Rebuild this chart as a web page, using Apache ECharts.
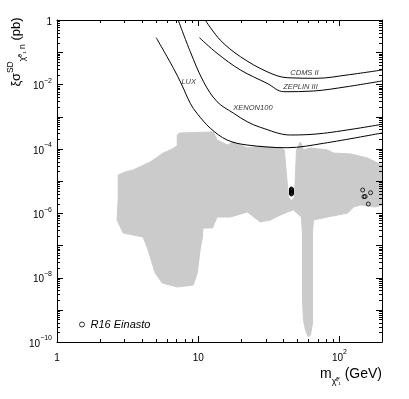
<!DOCTYPE html>
<html><head><meta charset="utf-8">
<script src="https://cdn.jsdelivr.net/npm/echarts@6/dist/echarts.min.js"></script>
<style>html,body{margin:0;padding:0;background:#fff}#c{width:409px;height:399px}</style>
</head><body><div id="c"></div>
<script>
// ---- tick labels ----
const xTickLabels = [1, 10, 100];
const yTickLabels = [1, 1e-2, 1e-4, 1e-6, 1e-8, 1e-10];
const yDecades = [1, 1e-1, 1e-2, 1e-3, 1e-4, 1e-5, 1e-6, 1e-7, 1e-8, 1e-9, 1e-10];

// ---- exclusion curves (mass GeV, sigma pb) ----
const cdmsX = [11.2, 14.3, 19.9, 30.7, 42.6, 69.5, 113, 200];
const cdmsY = [1.0, 0.239, 0.0725, 0.0248, 0.0161, 0.0155, 0.0196, 0.028];
const zeplinX = [10.2, 13.6, 19.9, 30.7, 40.3, 65.7, 113, 200];
const zeplinY = [0.282, 0.0925, 0.028, 0.0108, 0.00593, 0.00624, 0.00849, 0.0128];
const xenonX = [7.21, 8.78, 10.9, 13.6, 17.8, 22.2, 27.5, 44.9, 77.0, 200];
const xenonY = [1.0, 0.104, 0.0121, 0.0029, 0.00127, 6.95e-4, 4.65e-4, 2.68e-4, 3.03e-4, 5.77e-4];
const luxX = [5.04, 6.68, 7.66, 8.78, 9.79, 12.2, 16.0, 22.2, 42.6, 77.0, 200];
const luxY = [0.282, 0.0316, 0.00958, 0.00259, 0.00127, 4.33e-4, 1.88e-4, 1.31e-4, 1.08e-4, 1.48e-4, 3.1e-4];

// ---- curve label positions (mass, sigma, text) ----
const curveLabels = [
  [56.5, 0.0226, 'CDMS II'],
  [52.9, 0.0083, 'ZEPLIN III'],
  [24.4, 0.00185, 'XENON100'],
  [8.56, 0.0119, 'LUX']
];

// ---- scan region outline (mass, sigma) ----
const cloudX = [2.66, 2.71, 2.71, 3.04, 3.46, 4.57, 5.65, 6.33, 7.10, 7.10, 7.45, 12.8, 13.6, 16.1, 17.7, 22.3, 27.5, 38.2, 40.7, 43.5, 45.7, 48.0, 49.6, 52.9, 55.6, 62.3, 82.2, 90.6, 120, 158, 180, 200,
  200, 180, 141, 126, 114, 82.2, 65.4, 64.4, 64.4, 64.4, 62.3, 60.3, 57.4, 55.6, 54.7, 54.7, 53.7, 47.2, 42.8, 38.2, 32.4, 27.5, 22.3, 16.9, 13.6, 12.6, 10.8, 10.7, 10.3, 9.84, 9.22, 7.10, 5.56, 4.95, 4.42, 4.07, 2.94];
const cloudY = [6.15e-7, 2.57e-6, 1.53e-5, 1.91e-5, 2.20e-5, 3.89e-5, 7.41e-5, 9.18e-5, 1.22e-4, 2.69e-4, 3.10e-4, 3.33e-4, 1.88e-4, 1.31e-4, 1.63e-4, 1.06e-4, 1.22e-4, 1.06e-4, 9.18e-5, 3.18e-6, 2.39e-6, 3.18e-6, 9.18e-5, 1.63e-4, 9.18e-5, 1.06e-4, 9.18e-5, 7.41e-5, 6.90e-5, 5.18e-5, 3.89e-5, 3.14e-5,
  1.80e-6, 1.56e-6, 1.80e-6, 1.56e-6, 1.01e-6, 7.62e-7, 6.15e-7, 2.43e-7, 2.01e-9, 3.89e-10, 1.65e-10, 1.43e-10, 2.36e-10, 4.82e-10, 2.01e-9, 2.43e-7, 7.62e-7, 1.26e-6, 1.09e-6, 8.79e-7, 6.15e-7, 5.33e-7, 1.09e-6, 7.62e-7, 7.62e-7, 3.47e-7, 3.47e-7, 1.82e-7, 7.19e-8, 1.39e-8, 5.89e-9, 5.11e-9, 6.79e-9, 1.39e-8, 7.19e-8, 1.82e-7, 2.43e-7];

// ---- R16 Einasto points ----
const r16X = [45.7, 45.7, 45.7, 45.7, 45.7, 45.7, 45.7, 45.7, 45.7, 45.7, 45.7, 146, 166, 149, 152, 160];
const r16Y = [5.65e-6, 5.45e-6, 5.25e-6, 5.07e-6, 4.89e-6, 4.72e-6, 4.55e-6, 4.40e-6, 4.24e-6, 4.09e-6, 3.94e-6, 5.25e-6, 4.33e-6, 3.25e-6, 3.3e-6, 1.93e-6];

const FONT = 'Liberation Sans, Arial, Helvetica, sans-serif';
const MINUS = '\u2212';

const xMinor = [];
[1, 10, 100].forEach(d => { for (let k = 2; k <= 9; k++) { if (k * d <= 200) xMinor.push(k * d); } });
const yMinor = [];
yDecades.slice(1).forEach(d => { for (let k = 2; k <= 9; k++) yMinor.push(+(k * d).toPrecision(3)); });

const xTickData = xTickLabels.map(v => [v, 1e-10, 6]).concat(xMinor.map(v => [v, 1e-10, 3]));
const yTickData = yDecades.map(v => [1, v, 6]).concat(yMinor.map(v => [1, v, 3]));

function supLabel(v) {
  if (v === 1) return '{b|1}';
  if (v === 10) return '{b|10}';
  const e = Math.round(Math.log10(v));
  return '{b|10}{s|' + (e < 0 ? MINUS + (-e) : e) + '}';
}
const labelRich = {
  b: { fontSize: 10, fontFamily: FONT, color: '#000', lineHeight: 14, verticalAlign: 'bottom' },
  s: { fontSize: 7, fontFamily: FONT, color: '#000', lineHeight: 14, verticalAlign: 'top' }
};

function xAx(pos, labels) {
  return {
    type: 'log', logBase: 10, min: 1, max: 200, position: pos,
    axisLine: { show: true, lineStyle: { color: '#000', width: 1 } },
    axisTick: { show: false },
    axisLabel: labels ? { show: true, margin: 7, customValues: xTickLabels, formatter: supLabel, rich: labelRich } : { show: false },
    splitLine: { show: false }, minorTick: { show: false }
  };
}
function yAx(pos, labels) {
  return {
    type: 'log', logBase: 10, min: 1e-10, max: 1, position: pos,
    axisLine: { show: true, lineStyle: { color: '#000', width: 1 } },
    axisTick: { show: false },
    axisLabel: labels ? { show: true, margin: 5, customValues: yTickLabels, formatter: supLabel, rich: labelRich } : { show: false },
    splitLine: { show: false }, minorTick: { show: false }
  };
}

function curve(name, xs, ys) {
  return {
    name: name, type: 'line', xAxisIndex: 0, yAxisIndex: 0,
    data: xs.map((x, i) => [x, ys[i]]),
    showSymbol: false, smooth: 0.35, z: 5,
    lineStyle: { color: '#000', width: 1 }, silent: true
  };
}

function tickLine(x1, y1, x2, y2) {
  return { type: 'line', shape: { x1: x1, y1: y1, x2: x2, y2: y2 }, style: { stroke: '#000', lineWidth: 1 } };
}

const chart = echarts.init(document.getElementById('c'), null, { renderer: 'canvas' });
chart.setOption({
  animation: false,
  backgroundColor: '#fff',
  grid: { left: 57, right: 27, top: 20, bottom: 57, outerBoundsMode: 'none' },
  xAxis: [xAx('bottom', true), xAx('top', false)],
  yAxis: [yAx('left', true), yAx('right', false)],
  legend: {
    left: 79, top: 319, padding: 0, itemWidth: 5, itemHeight: 5, itemGap: 5,
    data: [{ name: 'R16 Einasto', icon: 'circle', itemStyle: { color: '#fff', borderColor: '#000', borderWidth: 1 } }],
    textStyle: { fontFamily: FONT, fontSize: 11, fontStyle: 'italic', color: '#000', padding: [0, 0, 0, 1] }
  },
  graphic: [
    {
      type: 'text', x: 16, y: 52, rotation: Math.PI / 2,
      style: {
        text: '{b|\u03BE\u03C3}{sup|SD}{sub|\u03C7\u0303}{t|\u2070\u2081}{sub| n}{b| (pb)}',
        align: 'center', verticalAlign: 'middle',
        rich: {
          b: { fontSize: 13, fontFamily: FONT, fill: '#000', lineHeight: 22, verticalAlign: 'middle' },
          sup: { fontSize: 8.5, fontFamily: FONT, fill: '#000', lineHeight: 22, verticalAlign: 'top', padding: [1, 0, 0, 0] },
          sub: { fontSize: 8.5, fontFamily: FONT, fill: '#000', lineHeight: 22, verticalAlign: 'bottom' },
          t: { fontSize: 7.5, fontFamily: FONT, fill: '#000', lineHeight: 22, verticalAlign: 'bottom' }
        }
      }
    },
    {
      type: 'text', x: 382, y: 374,
      style: {
        text: '{b|m}{sub|\u03C7\u0303}{t|\u2070\u2081}{b| (GeV)}',
        align: 'right', verticalAlign: 'middle',
        rich: {
          b: { fontSize: 14, fontFamily: FONT, fill: '#000', lineHeight: 24, verticalAlign: 'middle' },
          sub: { fontSize: 9, fontFamily: FONT, fill: '#000', lineHeight: 24, verticalAlign: 'bottom' },
          t: { fontSize: 7, fontFamily: FONT, fill: '#000', lineHeight: 24, verticalAlign: 'bottom' }
        }
      }
    }
  ],
  series: [
    {
      name: 'scan', type: 'custom', xAxisIndex: 0, yAxisIndex: 0, z: 1, silent: true, clip: true,
      data: [[cloudX[0], cloudY[0]]],
      renderItem: function (params, api) {
        const pts = cloudX.map((x, i) => api.coord([x, cloudY[i]]));
        return { type: 'polygon', shape: { points: pts }, style: { fill: '#cbcbcb', stroke: '#cbcbcb', lineWidth: 1 } };
      }
    },
    curve('CDMS II', cdmsX, cdmsY),
    curve('ZEPLIN III', zeplinX, zeplinY),
    curve('XENON100', xenonX, xenonY),
    curve('LUX', luxX, luxY),
    {
      name: 'labels', type: 'scatter', xAxisIndex: 0, yAxisIndex: 0, symbolSize: 0, z: 6, silent: true,
      data: curveLabels.map(d => [d[0], d[1], d[2]]),
      label: { show: true, position: 'inside', formatter: p => p.value[2], fontFamily: FONT, fontSize: 7.5, fontStyle: 'italic', color: '#000' }
    },
    {
      name: 'R16 Einasto', type: 'scatter', xAxisIndex: 0, yAxisIndex: 0, z: 7, silent: true,
      symbol: 'circle', symbolSize: 4,
      itemStyle: { color: 'rgba(255,255,255,0)', borderColor: '#000', borderWidth: 1 },
      data: r16X.map((x, i) => [x, r16Y[i]])
    },
    {
      name: 'xticks', type: 'custom', xAxisIndex: 0, yAxisIndex: 0, z: 9, silent: true, clip: false,
      data: xTickData,
      renderItem: function (params, api) {
        const len = api.value(2);
        const b = api.coord([api.value(0), 1e-10]);
        const t = api.coord([api.value(0), 1]);
        const x = Math.round(b[0]) + 0.5;
        return { type: 'group', children: [tickLine(x, b[1], x, b[1] - len), tickLine(x, t[1], x, t[1] + len)] };
      }
    },
    {
      name: 'yticks', type: 'custom', xAxisIndex: 0, yAxisIndex: 0, z: 9, silent: true, clip: false,
      data: yTickData,
      renderItem: function (params, api) {
        const len = api.value(2);
        const l = api.coord([1, api.value(1)]);
        const r = api.coord([200, api.value(1)]);
        const y = Math.round(l[1]) + 0.5;
        return { type: 'group', children: [tickLine(l[0], y, l[0] + len, y), tickLine(r[0], y, r[0] - len, y)] };
      }
    }
  ]
});
</script>
</body></html>
